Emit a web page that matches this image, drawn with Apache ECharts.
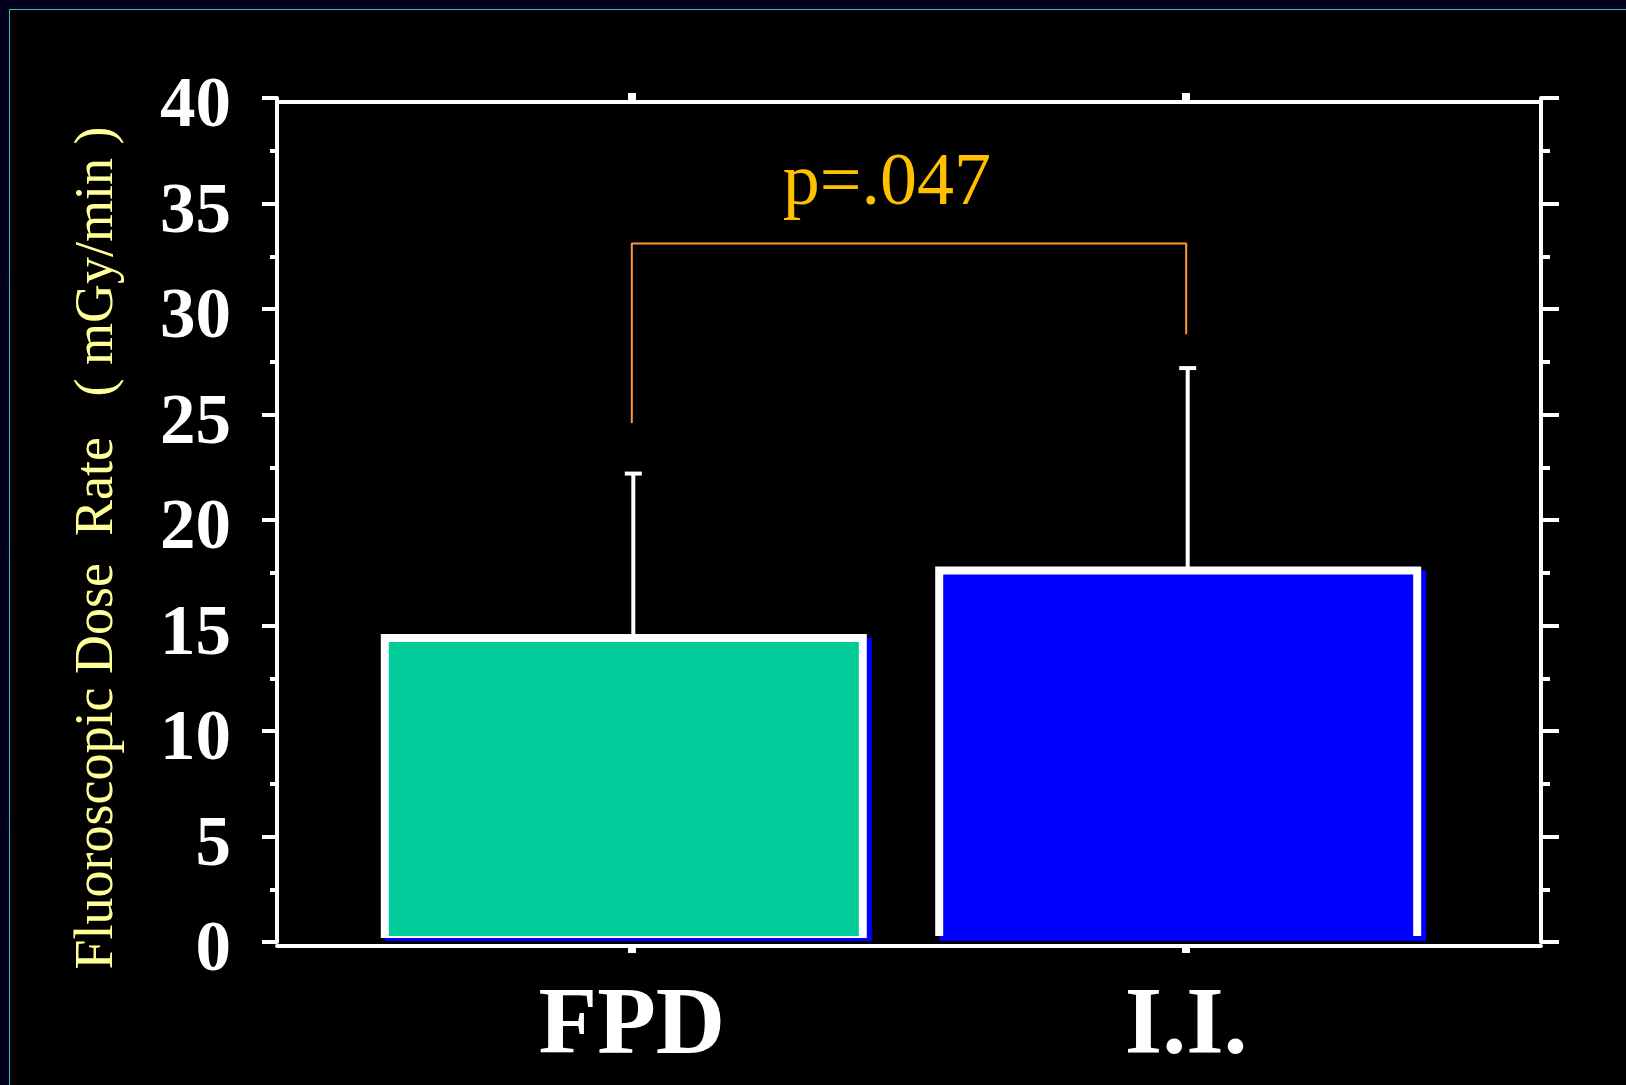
<!DOCTYPE html>
<html>
<head>
<meta charset="utf-8">
<script src="https://cdn.jsdelivr.net/npm/echarts@6/dist/echarts.min.js"></script>
<style>
html,body{margin:0;padding:0;background:#00001e;}
#chart{width:1626px;height:1085px;}
</style>
</head>
<body>
<div id="chart"></div>
<script>
// ---- data ----
const categories = ['FPD', 'I.I.'];
const categoryX = [1, 2];
const meanValues = [14.6, 17.8];
const upperErrorValues = [22.2, 27.2];
const bracketX = [1, 1, 2, 2];
const bracketY = [24.6, 33.1, 33.1, 28.8];
const pValueLabel = 'p=.047';
const yAxisTitle = 'Fluoroscopic Dose  Rate   ( mGy/min )';

// ---- styles / layout ----
const SERIF = '"Liberation Serif", "Times New Roman", serif';
const SHADOW_BLUE = '#0000FF';
const BAR_FILLS = ['#00CC99', '#0000FF'];
const BAR_W = 490, BAR_SHIFT = -6, BORDER = 8;
const P_LABEL_ANCHOR = [1.46, 35.9];

const chart = echarts.init(document.getElementById('chart'));

const barData = categoryX.map((x, i) => [x, meanValues[i], i]);
const errData = categoryX.map((x, i) => [x, meanValues[i], upperErrorValues[i]]);
const bracketData = bracketX.map((x, i) => [x, bracketY[i]]);

function renderBar(params, api) {
  const x = api.value(0), v = api.value(1), idx = api.value(2);
  const top = api.coord([x, v]);
  const base = api.coord([x, 0]);
  const cx = top[0] + BAR_SHIFT;
  const L = cx - BAR_W / 2, R = cx + BAR_W / 2, T = top[1], B = base[1];
  const fill = BAR_FILLS[idx];
  const sameAsShadow = fill.toUpperCase() === SHADOW_BLUE;
  const whiteBottom = sameAsShadow ? B - 6 : B - 4;
  const innerBottom = sameAsShadow ? B - 1 : B - 6;
  return {
    type: 'group',
    children: [
      { type: 'rect', shape: { x: L + 4, y: T + 4, width: (R + 1) - (L + 4), height: (B - 1) - (T + 4) }, style: { fill: SHADOW_BLUE } },
      { type: 'rect', shape: { x: L, y: T, width: (R - 4) - L, height: whiteBottom - T }, style: { fill: '#FFFFFF' } },
      { type: 'rect', shape: { x: L + BORDER, y: T + BORDER, width: (R - 4 - BORDER) - (L + BORDER), height: innerBottom - (T + BORDER) }, style: { fill: fill } }
    ]
  };
}

function renderErr(params, api) {
  const x = api.value(0);
  const p0 = api.coord([x, api.value(1)]);
  const p1 = api.coord([x, api.value(2)]);
  const sx = p0[0] + 1.5;
  return {
    type: 'group',
    children: [
      { type: 'line', shape: { x1: sx, y1: p0[1] + 4, x2: sx, y2: p1[1] }, style: { stroke: '#FFFFFF', lineWidth: 4 } },
      { type: 'line', shape: { x1: sx - 8.5, y1: p1[1], x2: sx + 8.5, y2: p1[1] }, style: { stroke: '#FFFFFF', lineWidth: 4 } }
    ]
  };
}

const option = {
  backgroundColor: '#00001e',
  animation: false,
  graphic: [
    { type: 'rect', z: -10, silent: true, shape: { x: 9.5, y: 9.5, width: 1700, height: 1200 }, style: { fill: '#000000', stroke: '#2ec4c4', lineWidth: 1 } }
  ],
  grid: { left: 277, right: 85, top: 98, bottom: 143, containLabel: false },
  xAxis: [
    {
      type: 'value', position: 'bottom', min: 0.36, max: 2.64, offset: 4,
      axisLine: { show: true, onZero: false, lineStyle: { color: '#FFFFFF', width: 4 } },
      axisTick: { show: true, customValues: categoryX, length: 7, lineStyle: { color: '#FFFFFF', width: 8 } },
      axisLabel: {
        show: true, customValues: categoryX, margin: 34,
        formatter: v => categories[categoryX.indexOf(v)] || '',
        color: '#FFFFFF', fontFamily: SERIF, fontWeight: 'bold', fontSize: 96
      },
      splitLine: { show: false }
    },
    {
      type: 'value', position: 'top', min: 0.36, max: 2.64, offset: -4,
      axisLine: { show: true, onZero: false, lineStyle: { color: '#FFFFFF', width: 4 } },
      axisTick: { show: true, customValues: categoryX, length: 9, lineStyle: { color: '#FFFFFF', width: 8 } },
      axisLabel: { show: false },
      splitLine: { show: false }
    }
  ],
  yAxis: [
    {
      type: 'value', position: 'left', min: 0, max: 40, interval: 5,
      name: yAxisTitle, nameLocation: 'middle', nameGap: 152, nameRotate: 90,
      nameTextStyle: { color: '#FFFF99', fontFamily: SERIF, fontSize: 54, padding: [0, 56, 0, 0] },
      axisLine: { show: true, onZero: false, lineStyle: { color: '#FFFFFF', width: 4 } },
      axisTick: { show: true, length: 15, lineStyle: { color: '#FFFFFF', width: 4 } },
      minorTick: { show: true, splitNumber: 2, length: 7, lineStyle: { color: '#FFFFFF', width: 4 } },
      axisLabel: { color: '#FFFFFF', fontFamily: SERIF, fontWeight: 'bold', fontSize: 71, margin: 46, verticalAlign: 'top', lineHeight: 20 },
      splitLine: { show: false }
    },
    {
      type: 'value', position: 'right', min: 0, max: 40, interval: 5,
      axisLine: { show: true, onZero: false, lineStyle: { color: '#FFFFFF', width: 4 } },
      axisTick: { show: true, length: 18, lineStyle: { color: '#FFFFFF', width: 4 } },
      minorTick: { show: true, splitNumber: 2, length: 9, lineStyle: { color: '#FFFFFF', width: 4 } },
      axisLabel: { show: false },
      splitLine: { show: false }
    }
  ],
  series: [
    { type: 'custom', name: 'error', xAxisIndex: 0, yAxisIndex: 0, z: 2, renderItem: renderErr, data: errData, encode: { x: 0, y: [1, 2] } },
    { type: 'custom', name: 'bars', xAxisIndex: 0, yAxisIndex: 0, z: 3, renderItem: renderBar, data: barData, encode: { x: 0, y: 1 } },
    {
      type: 'line', name: 'bracket', xAxisIndex: 0, yAxisIndex: 0, z: 4, data: bracketData,
      symbol: 'none', lineStyle: { color: '#FF9933', width: 2 }
    },
    {
      type: 'scatter', name: 'p', xAxisIndex: 0, yAxisIndex: 0, z: 5,
      data: [P_LABEL_ANCHOR], symbolSize: 0, itemStyle: { color: '#FFC000', opacity: 1 },
      label: { show: true, position: 'inside', formatter: pValueLabel, color: '#FFC000', fontFamily: SERIF, fontSize: 74, opacity: 1 }
    }
  ]
};
chart.setOption(option);
</script>
</body>
</html>
